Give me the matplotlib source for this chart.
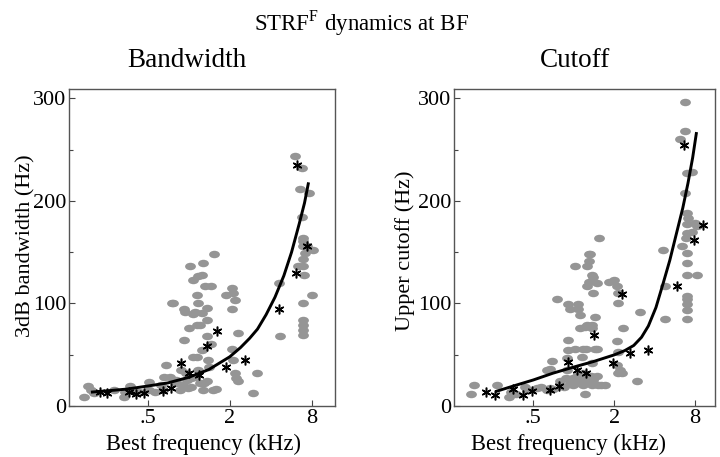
import numpy as np
import matplotlib
matplotlib.use("Agg")
import matplotlib.pyplot as plt
from matplotlib.path import Path
from matplotlib.ticker import FixedLocator, NullFormatter

plt.rcParams['font.family'] = ['Liberation Serif', 'DejaVu Serif']
plt.rcParams['mathtext.fontset'] = 'custom'
plt.rcParams['mathtext.rm'] = 'Liberation Serif'

# ---- Bandwidth panel (kHz, Hz) ----
bw_gray_f = [0.17, 0.18, 0.19, 0.20, 0.28, 0.33, 0.34, 0.37, 0.39, 0.43, 0.51, 0.51, 0.56, 0.65,
             0.675, 0.66, 0.76, 0.81, 0.86, 0.88, 0.92, 0.93, 0.92, 0.96, 0.97, 1.01, 1.02, 1.04,
             1.07, 1.10, 1.14, 1.16, 1.20, 1.14, 1.24, 1.27, 1.31, 1.35, 1.36, 1.38, 1.41, 1.46,
             1.52, 1.14, 1.16, 1.20, 1.27, 1.35, 1.50, 1.59, 1.07, 1.04, 1.86, 2.06, 2.12, 2.18,
             2.09, 2.30, 2.06, 2.12, 2.18, 2.24, 2.30, 3.15, 2.94, 4.62, 4.67, 6.03, 6.75, 6.6,
             7.69, 6.75, 6.94, 6.87, 6.87, 7.14, 6.87, 6.94, 7.35, 8.14, 6.38, 7.05, 6.94, 6.94,
             6.94, 6.94, 6.87, 8.09, 1.16, 1.24, 0.75, 1.35, 1.07, 0.90, 0.98, 1.10, 1.25, 0.80,
             0.62, 0.72, 1.45, 1.30]
bw_gray_y = [8.5, 19.5, 15.6, 13, 15.6, 9, 14, 19.5, 15.6, 14, 23.8, 15.6, 14, 15.6,
             40, 28.7, 100, 22, 15.6, 35, 95, 92, 64.5, 32, 25.4, 76, 136, 19,
             123, 92, 108, 100, 79, 79, 90.5, 139, 117, 84, 68, 45, 38, 117,
             148, 48, 35, 22, 15.6, 24, 15.6, 17, 48, 27, 108, 115, 110, 103.6,
             95, 71, 56, 45, 32, 27, 24, 32, 12.4, 120, 68, 244, 232, 212,
             208, 184, 164, 160.6, 156, 149, 143, 136, 156, 152, 136, 128, 100, 84,
             79, 74, 69, 108, 127, 128, 100, 96, 90, 20, 18, 28, 55, 25,
             20, 28, 60, 22]
bw_star_f = [0.22, 0.25, 0.36, 0.41, 0.47, 0.64, 0.74, 0.87, 1.01, 1.19, 1.37, 1.61, 1.87,
             2.60, 4.60, 6.27, 7.35, 6.13]
bw_star_y = [14, 12.4, 14, 11.7, 13, 14.7, 17.3, 42.3, 32.6, 30.3, 58, 73.3, 37.8,
             45, 94.5, 234.5, 156, 129.6]
bw_fit_f = [0.19, 0.26, 0.35, 0.5, 0.7, 1.0, 1.4, 2.0, 2.4, 2.8, 3.2, 3.7, 4.3, 5.0, 5.7, 6.5, 7.1, 7.6]
bw_fit_y = [13.5, 15, 16.5, 19.5, 22.5, 28, 35.5, 48, 57, 66, 75, 89, 106, 127, 150, 178, 198, 218]

# ---- Cutoff panel (kHz, Hz) ----
co_gray_f = [0.17, 0.18, 0.27, 0.33, 0.34, 0.37, 0.43, 0.45, 0.53, 0.57, 0.63, 0.67, 0.70,
             0.63, 0.69, 0.67, 0.75, 0.79, 0.84, 0.87, 0.89, 0.89, 0.91, 0.91, 0.94, 0.91,
             0.94, 0.99, 0.99, 1.02, 1.05, 1.05, 1.08, 1.08, 1.11, 1.15, 1.18, 1.15, 1.18,
             1.21, 1.25, 1.23, 1.25, 1.21, 1.25, 1.29, 1.32, 1.36, 1.34, 1.36, 1.36, 1.40,
             1.44, 1.44, 1.29, 1.36, 1.40, 1.48, 1.40, 1.48, 1.52, 1.55, 1.61, 1.70, 1.84,
             2.0, 2.09, 2.15, 2.15, 2.09, 2.15, 2.09, 2.21, 2.15, 2.27, 2.34, 2.98, 3.11,
             4.65, 4.78, 4.78, 6.19, 6.74, 6.74, 6.94, 7.56, 6.74, 6.94, 7.13, 6.94, 7.01,
             6.9, 6.4, 6.94, 6.94, 6.94, 8.23, 6.94, 6.94, 6.94, 6.94, 6.94, 8.0, 8.3,
             7.56, 1.02, 1.31, 1.11, 1.25, 1.36, 1.48, 1.18]
co_gray_y = [12, 20, 20, 9, 14, 12, 19, 16, 18, 19, 16, 18, 17,
             35, 44, 36, 104, 24, 19, 27, 35, 47, 64, 99, 95, 55,
             22, 20, 27, 56, 29, 22, 99, 95, 76, 48, 32, 25, 20,
             12, 25, 56, 136, 77, 117, 121, 148, 42, 29, 76, 20, 25,
             87, 56, 141, 128, 126, 120, 110, 29, 20, 164, 20, 20, 121,
             123, 117, 110, 100, 63, 53, 40, 35, 32, 32, 76, 24, 92,
             152, 85, 117, 260, 268, 296, 227, 228, 208, 188, 183, 177, 169,
             164, 156, 149, 139, 128, 128, 107, 104, 99, 94, 85, 178.5, 175,
             170, 136, 148, 89, 79, 79, 56, 56]
co_star_f = [0.22, 0.26, 0.355, 0.42, 0.49, 0.66, 0.77, 0.90, 1.05, 1.23, 1.42, 1.95, 2.27,
             2.62, 3.59, 5.84, 6.63, 7.91, 9.13]
co_star_y = [14, 11, 17, 11, 15, 16, 19.5, 43, 35, 32, 69, 42, 109,
             52, 55, 117, 254, 162, 176]
co_fit_f = [0.26, 0.376, 0.5, 0.70, 0.99, 1.40, 2.0, 2.4, 2.8, 3.2, 3.6, 4.1, 4.65, 5.2,
            5.8, 6.5, 7.1, 7.7, 8.23]
co_fit_y = [14, 20.5, 25.4, 32, 37.8, 43.3, 49.8, 54, 59, 67, 78, 96, 120, 142,
            167, 193, 217, 242, 267]

xtick_vals = [0.5, 2, 8]
xtick_labels = ['.5', '2', '8']
ytick_vals = [0, 100, 200, 300]

# horizontally stretched ellipse marker
circ = Path.unit_circle()
ellipse = Path(circ.vertices * np.array([1.45, 1.0]), circ.codes)

fig = plt.figure(figsize=(7.2, 4.57), dpi=100)
ax1 = fig.add_axes([69/720, 51/457, 266/720, 317/457])
ax2 = fig.add_axes([454/720, 51/457, 261/720, 317/457])

panels = [
    (ax1, bw_gray_f, bw_gray_y, bw_star_f, bw_star_y, bw_fit_f, bw_fit_y, (0.131, 11.9),
     "3dB bandwidth (Hz)", 0.506, -0.162, 0.505),
    (ax2, co_gray_f, co_gray_y, co_star_f, co_star_y, co_fit_f, co_fit_y, (0.128, 11.3),
     "Upper cutoff (Hz)", 0.44, -0.188, 0.49),
]

for ax, gf, gy, sf, sy, ff, fy, xl, ylab, xlx, ylx, yly in panels:
    ax.plot(gf, gy, linestyle='none', marker=ellipse, markersize=7.8,
            color='#959595', markeredgewidth=0)
    ax.plot(ff, fy, color='black', lw=2.1, solid_capstyle='butt', solid_joinstyle='round')
    ax.plot(sf, sy, linestyle='none', marker=(6, 2, 0), markersize=7,
            color='black', markeredgewidth=1.1)
    ax.set_xscale('log')
    ax.set_xlim(*xl)
    ax.set_ylim(0, 309)
    ax.xaxis.set_major_locator(FixedLocator(xtick_vals))
    ax.xaxis.set_minor_locator(FixedLocator([]))
    ax.xaxis.set_minor_formatter(NullFormatter())
    ax.set_xticklabels(xtick_labels)
    ax.set_yticks(ytick_vals)
    ax.set_yticks([50, 150, 250], minor=True)
    ax.yaxis.set_minor_formatter(NullFormatter())
    ax.tick_params(direction='in', length=4, width=0.8, labelsize=16, color='#444444', pad=2)
    ax.tick_params(which='minor', direction='in', length=3, width=0.8, color='#444444')
    ax.set_xlabel("Best frequency (kHz)", fontsize=16.3, va='baseline')
    ax.xaxis.set_label_coords(xlx, -0.139)
    ax.set_ylabel(ylab, fontsize=16, va='center')
    ax.yaxis.set_label_coords(ylx, yly)
    for sp in ax.spines.values():
        sp.set_color('#555555')
        sp.set_linewidth(1.0)

fig.text(361/720, 1 - 30/457, "STRF$^{\\mathrm{F}}$ dynamics at BF", ha='center', va='baseline', fontsize=16.5)
fig.text(187/720, 1 - 67/457, "Bandwidth", ha='center', va='baseline', fontsize=19.5)
fig.text(575/720, 1 - 67/457, "Cutoff", ha='center', va='baseline', fontsize=19.5)

fig.savefig("out.png", dpi=100)
